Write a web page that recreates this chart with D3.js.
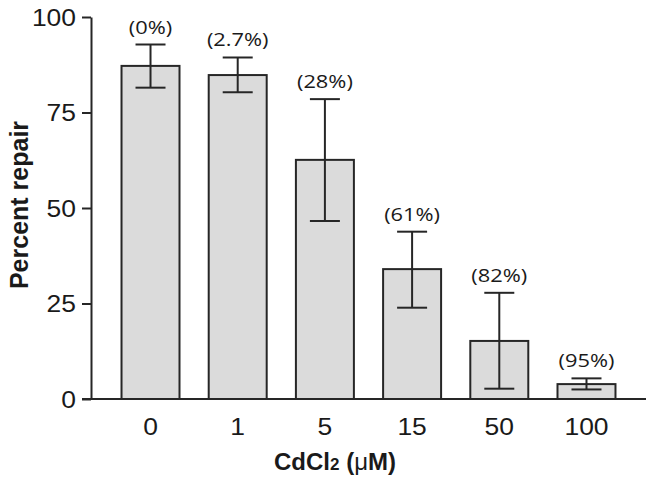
<!DOCTYPE html>
<html>
<head>
<meta charset="utf-8">
<script src="https://cdn.jsdelivr.net/npm/d3@7"></script>
<style>
  body { margin: 0; background: #fff; }
  svg { display: block; }
</style>
</head>
<body>
<div id="chart"></div>
<script>
const doses = ['0', '1', '5', '15', '50', '100'];
const repair = [87.2, 84.8, 62.6, 34.0, 15.2, 3.9];
const errHigh = [92.8, 89.4, 78.5, 43.8, 27.8, 5.4];
const errLow = [81.5, 80.3, 46.6, 23.9, 2.7, 2.5];
const inhibition = ['(0%)', '(2.7%)', '(28%)', '(61%)', '(82%)', '(95%)'];
const yTicks = [0, 25, 50, 75, 100];

const width = 653, height = 483;
const margin = { top: 17, right: 7, bottom: 84, left: 91 };
const ink = '#262626';
const stretch = 1.15;

const svg = d3.select('#chart').append('svg')
  .attr('width', width)
  .attr('height', height);

const x = d3.scaleBand()
  .domain(doses)
  .range([margin.left, width - margin.right])
  .paddingInner(0.335)
  .paddingOuter(0.35);

const y = d3.scaleLinear()
  .domain([0, 100])
  .range([height - margin.bottom, margin.top]);

// bars
svg.append('g').selectAll('rect')
  .data(doses)
  .enter().append('rect')
  .attr('x', d => x(d))
  .attr('y', (d, i) => y(repair[i]))
  .attr('width', x.bandwidth())
  .attr('height', (d, i) => y(0) - y(repair[i]))
  .attr('fill', '#dbdbdb')
  .attr('stroke', ink)
  .attr('stroke-width', 2);

// error bars
const cap = 15;
const eb = svg.append('g').attr('stroke', ink).attr('stroke-width', 2).attr('fill', 'none');
doses.forEach((d, i) => {
  const cx = x(d) + x.bandwidth() / 2;
  eb.append('line').attr('x1', cx).attr('x2', cx).attr('y1', y(errLow[i])).attr('y2', y(errHigh[i]));
  eb.append('line').attr('x1', cx - cap).attr('x2', cx + cap).attr('y1', y(errHigh[i])).attr('y2', y(errHigh[i]));
  eb.append('line').attr('x1', cx - cap).attr('x2', cx + cap).attr('y1', y(errLow[i])).attr('y2', y(errLow[i]));
});

// percent inhibition labels
svg.append('g').selectAll('text')
  .data(doses)
  .enter().append('text')
  .attr('transform', (d, i) => `translate(${x(d) + x.bandwidth() / 2},${y(errHigh[i]) - 11}) scale(1.15,1)`)
  .attr('text-anchor', 'middle')
  .attr('font-family', '"Open Sans", sans-serif')
  .attr('font-size', 19)
  .attr('fill', '#1a1a1a')
  .text((d, i) => inhibition[i]);

// y axis
const yAxis = svg.append('g')
  .attr('transform', `translate(${margin.left},0)`)
  .call(d3.axisLeft(y).tickValues(yTicks).tickSize(9).tickSizeOuter(0));
yAxis.select('.domain').attr('stroke', ink).attr('stroke-width', 2);
yAxis.selectAll('.tick line').attr('stroke', ink).attr('stroke-width', 2);
yAxis.selectAll('.tick text')
  .attr('x', null).attr('dy', null)
  .attr('transform', `translate(-15,8) scale(${stretch},1)`)
  .attr('font-family', '"Liberation Sans", Arial, sans-serif')
  .attr('font-size', 23)
  .attr('fill', '#1a1a1a');

// x axis
const xAxis = svg.append('g')
  .attr('transform', `translate(0,${y(0)})`)
  .call(d3.axisBottom(x).tickSize(0).tickSizeOuter(0));
xAxis.select('.domain')
  .attr('d', `M${margin.left - 9},0H${width - margin.right}`)
  .attr('stroke', ink).attr('stroke-width', 2);
xAxis.selectAll('.tick text')
  .attr('y', null).attr('dy', null)
  .attr('transform', `translate(0,36) scale(${stretch},1)`)
  .attr('font-family', '"Liberation Sans", Arial, sans-serif')
  .attr('font-size', 23)
  .attr('fill', '#1a1a1a');

// axis titles
svg.append('text')
  .attr('transform', `translate(28,205) rotate(-90)`)
  .attr('text-anchor', 'middle')
  .attr('font-family', '"Liberation Sans", Arial, sans-serif')
  .attr('font-weight', 'bold')
  .attr('font-size', 25)
  .attr('fill', '#1a1a1a')
  .text('Percent repair');

const xt = svg.append('text')
  .attr('transform', `translate(335,470)`)
  .attr('text-anchor', 'middle')
  .attr('font-family', '"Liberation Sans", Arial, sans-serif')
  .attr('font-weight', 'bold')
  .attr('font-size', 24)
  .attr('fill', '#1a1a1a');
xt.append('tspan').text('CdCl');
xt.append('tspan').attr('font-size', 17).text('2');
xt.append('tspan').text(' (');
xt.append('tspan').attr('font-weight', 'normal').text('μ');
xt.append('tspan').text('M)');
</script>
</body>
</html>
